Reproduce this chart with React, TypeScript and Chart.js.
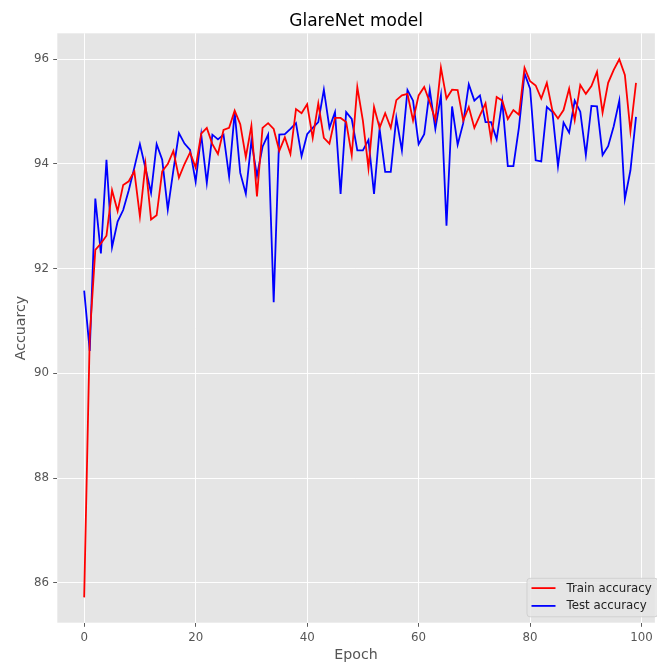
import { useEffect, useRef } from "react";
import { Chart, registerables } from "chart.js";

Chart.register(...registerables);

const chartTitle = "GlareNet model";
const xAxisLabel = "Epoch";
const yAxisLabel = "Accuarcy";
const seriesNames = ["Train accuracy", "Test accuracy"];

const xTickValues = [0, 20, 40, 60, 80, 100];
const yTickValues = [86, 88, 90, 92, 94, 96];

const trainAccuracy = [
  85.72, 90.7, 92.36, 92.48, 92.63, 93.5, 93.1, 93.6, 93.67, 93.86,
  93.0, 94.0, 92.94, 93.02, 93.86, 94.0, 94.25, 93.74, 94.0, 94.22,
  93.93, 94.58, 94.69, 94.38, 94.19, 94.65, 94.69, 95.02, 94.76, 94.13,
  94.73, 93.38, 94.69, 94.78, 94.67, 94.25, 94.51, 94.19, 95.05, 94.97,
  95.14, 94.5, 95.16, 94.5, 94.39, 94.88, 94.88, 94.8, 94.17, 95.47,
  94.83, 93.92, 95.09, 94.69, 94.97, 94.69, 95.22, 95.31, 95.34, 94.83,
  95.31, 95.47, 95.18, 94.84, 95.84, 95.25, 95.42, 95.41, 94.83, 95.09,
  94.69, 94.93, 95.16, 94.47, 95.28, 95.21, 94.86, 95.03, 94.94, 95.84,
  95.58, 95.5, 95.25, 95.55, 95.02, 94.87, 95.03, 95.44, 94.84, 95.51,
  95.34, 95.49, 95.76, 94.98, 95.55, 95.8, 96.0, 95.7, 94.63, 95.55,
];

const testAccuracy = [
  91.58, 90.43, 93.34, 92.29, 94.08, 92.41, 92.9, 93.12, 93.5, 93.93,
  94.38, 93.92, 93.45, 94.38, 94.08, 93.13, 93.88, 94.59, 94.39, 94.27,
  93.66, 94.56, 93.64, 94.56, 94.47, 94.56, 93.76, 94.99, 93.83, 93.43,
  94.44, 93.77, 94.33, 94.56, 91.36, 94.56, 94.57, 94.67, 94.78, 94.15,
  94.57, 94.69, 94.8, 95.42, 94.69, 94.99, 93.43, 94.99, 94.86, 94.26,
  94.26, 94.46, 93.43, 94.67, 93.85, 93.85, 94.88, 94.26, 95.41, 95.21,
  94.38, 94.57, 95.42, 94.67, 95.31, 92.82, 95.1, 94.37, 94.78, 95.52,
  95.21, 95.31, 94.8, 94.8, 94.47, 95.2, 93.96, 93.96, 94.7, 95.73,
  95.44, 94.07, 94.05, 95.09, 94.99, 93.96, 94.79, 94.6, 95.21, 95.0,
  94.17, 95.11, 95.1, 94.17, 94.34, 94.72, 95.21, 93.33, 93.88, 94.9,
];

const FONT = "'DejaVu Sans', 'Liberation Sans', sans-serif";
const TICK_COLOR = "#555555";

const plotBackground = {
  id: "plotBackground",
  beforeDraw(chart: any) {
    const { ctx, chartArea: a, width, height } = chart;
    ctx.save();
    ctx.fillStyle = "#ffffff";
    ctx.fillRect(0, 0, width, height);
    ctx.fillStyle = "#E5E5E5";
    ctx.fillRect(a.left, a.top, a.right - a.left, a.bottom - a.top);
    ctx.restore();
  },
};

const insideLegend = {
  id: "insideLegend",
  afterDatasetsDraw(chart: any) {
    const { ctx, chartArea: a } = chart;
    const right = a.right + 3;
    const bottom = a.bottom - 5.9;
    const left = 527;
    const top = bottom - 38.5;
    const r = 3;
    ctx.save();
    ctx.beginPath();
    ctx.moveTo(left + r, top);
    ctx.lineTo(right - r, top);
    ctx.quadraticCurveTo(right, top, right, top + r);
    ctx.lineTo(right, bottom - r);
    ctx.quadraticCurveTo(right, bottom, right - r, bottom);
    ctx.lineTo(left + r, bottom);
    ctx.quadraticCurveTo(left, bottom, left, bottom - r);
    ctx.lineTo(left, top + r);
    ctx.quadraticCurveTo(left, top, left + r, top);
    ctx.closePath();
    ctx.fillStyle = "rgba(229,229,229,0.85)";
    ctx.fill();
    ctx.strokeStyle = "rgba(204,204,204,0.8)";
    ctx.lineWidth = 1;
    ctx.stroke();
    const rows = [top + 9.8, top + 27.6];
    chart.data.datasets.forEach((ds: any, i: number) => {
      const y = rows[i];
      ctx.beginPath();
      ctx.moveTo(left + 4.5, y);
      ctx.lineTo(left + 28.5, y);
      ctx.strokeStyle = ds.borderColor;
      ctx.lineWidth = 1.8;
      ctx.stroke();
      ctx.fillStyle = "#222222";
      ctx.font = `11.8px ${FONT}`;
      ctx.textBaseline = "middle";
      ctx.textAlign = "left";
      ctx.fillText(ds.label, left + 39.5, y + 0.5);
    });
    ctx.restore();
  },
};

export default function App() {
  const canvasRef = useRef<HTMLCanvasElement | null>(null);

  useEffect(() => {
    const canvas = canvasRef.current;
    if (!canvas) return;
    const chart = new Chart(canvas, {
      type: "line",
      data: {
        datasets: [
          {
            label: seriesNames[0],
            data: trainAccuracy.map((y, i) => ({ x: i, y })),
            borderColor: "#ff0000",
            backgroundColor: "#ff0000",
            borderWidth: 1.8,
            pointRadius: 0,
            tension: 0,
            fill: false,
          },
          {
            label: seriesNames[1],
            data: testAccuracy.map((y, i) => ({ x: i, y })),
            borderColor: "#0000ff",
            backgroundColor: "#0000ff",
            borderWidth: 1.8,
            pointRadius: 0,
            tension: 0,
            fill: false,
          },
        ],
      },
      options: {
        responsive: false,
        animation: false,
        layout: { padding: 0 },
        plugins: {
          legend: { display: false },
          tooltip: { enabled: false },
          title: {
            display: true,
            text: chartTitle,
            fullSize: false,
            color: "#000000",
            font: { family: FONT, size: 17, weight: "normal", lineHeight: 1.2 },
            padding: { top: 11.3, bottom: 1.6 },
          },
        },
        scales: {
          x: {
            type: "linear",
            min: -4.82,
            max: 102.38,
            afterBuildTicks: (s: any) => {
              s.ticks = xTickValues.map((v) => ({ value: v }));
            },
            afterFit: (s: any) => {
              s.height = 44.3;
            },
            border: { display: false },
            grid: {
              color: "#ffffff",
              lineWidth: 0.95,
              tickColor: TICK_COLOR,
              tickLength: 4.1,
              tickWidth: 0.95,
            },
            ticks: {
              color: TICK_COLOR,
              font: { family: FONT, size: 11.8 },
              padding: 4.1,
              maxRotation: 0,
              autoSkip: false,
            },
            title: {
              display: true,
              text: xAxisLabel,
              color: TICK_COLOR,
              font: { family: FONT, size: 14.2, lineHeight: 1.2 },
              padding: { top: 0, bottom: 3.6 },
            },
          },
          y: {
            type: "linear",
            min: 85.236,
            max: 96.497,
            afterBuildTicks: (s: any) => {
              s.ticks = yTickValues.map((v) => ({ value: v }));
            },
            afterFit: (s: any) => {
              s.width = 57.3;
            },
            border: { display: false },
            grid: {
              color: "#ffffff",
              lineWidth: 0.95,
              tickColor: TICK_COLOR,
              tickLength: 4.1,
              tickWidth: 0.95,
            },
            ticks: {
              color: TICK_COLOR,
              font: { family: FONT, size: 11.8 },
              padding: 4.1,
            },
            title: {
              display: true,
              text: yAxisLabel,
              color: TICK_COLOR,
              font: { family: FONT, size: 14.2, lineHeight: 1.2 },
              padding: { top: 12.5, bottom: 0 },
            },
          },
        },
      },
      plugins: [plotBackground, insideLegend],
    } as any);
    return () => chart.destroy();
  }, []);

  return (
    <div
      style={{
        position: "fixed",
        left: 0,
        top: 0,
        width: 657,
        height: 667,
        background: "#ffffff",
      }}
    >
      <canvas
        ref={canvasRef}
        width={657}
        height={667}
        style={{ display: "block", width: 657, height: 667 }}
      />
    </div>
  );
}
